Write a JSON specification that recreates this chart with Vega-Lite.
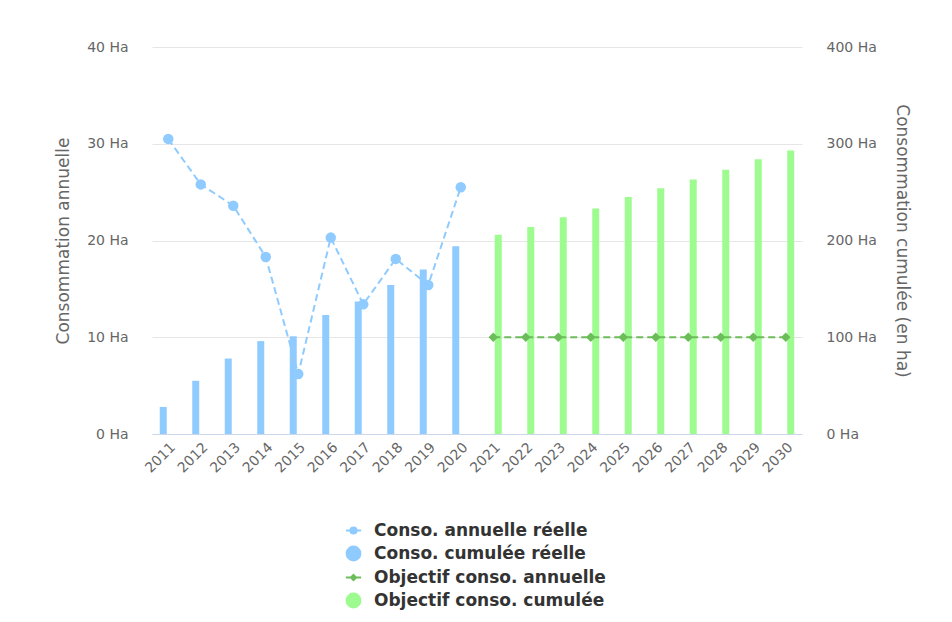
{
  "$schema": "https://vega.github.io/schema/vega-lite/v6.json",
  "width": 650,
  "height": 387,
  "autosize": {"type": "none"},
  "padding": {"left": 152, "top": 47, "right": 150, "bottom": 188},
  "background": "white",
  "config": {
    "font": "DejaVu Sans",
    "view": {"stroke": null},
    "axis": {"labelColor": "#666666", "titleColor": "#666666", "labelFontSize": 14, "titleFontSize": 17, "titleFontWeight": "normal", "ticks": false, "domain": false}
  },
  "datasets": {
    "d": [
      {"year": "2011", "series": "Conso. annuelle réelle", "value": 30.5},
      {"year": "2012", "series": "Conso. annuelle réelle", "value": 25.8},
      {"year": "2013", "series": "Conso. annuelle réelle", "value": 23.6},
      {"year": "2014", "series": "Conso. annuelle réelle", "value": 18.3},
      {"year": "2015", "series": "Conso. annuelle réelle", "value": 6.2},
      {"year": "2016", "series": "Conso. annuelle réelle", "value": 20.3},
      {"year": "2017", "series": "Conso. annuelle réelle", "value": 13.4},
      {"year": "2018", "series": "Conso. annuelle réelle", "value": 18.1},
      {"year": "2019", "series": "Conso. annuelle réelle", "value": 15.4},
      {"year": "2020", "series": "Conso. annuelle réelle", "value": 25.5},
      {"year": "2011", "series": "Conso. cumulée réelle", "value": 28},
      {"year": "2012", "series": "Conso. cumulée réelle", "value": 55},
      {"year": "2013", "series": "Conso. cumulée réelle", "value": 78},
      {"year": "2014", "series": "Conso. cumulée réelle", "value": 96},
      {"year": "2015", "series": "Conso. cumulée réelle", "value": 101},
      {"year": "2016", "series": "Conso. cumulée réelle", "value": 123},
      {"year": "2017", "series": "Conso. cumulée réelle", "value": 137},
      {"year": "2018", "series": "Conso. cumulée réelle", "value": 154},
      {"year": "2019", "series": "Conso. cumulée réelle", "value": 170},
      {"year": "2020", "series": "Conso. cumulée réelle", "value": 194},
      {"year": "2021", "series": "Objectif conso. annuelle", "value": 10},
      {"year": "2022", "series": "Objectif conso. annuelle", "value": 10},
      {"year": "2023", "series": "Objectif conso. annuelle", "value": 10},
      {"year": "2024", "series": "Objectif conso. annuelle", "value": 10},
      {"year": "2025", "series": "Objectif conso. annuelle", "value": 10},
      {"year": "2026", "series": "Objectif conso. annuelle", "value": 10},
      {"year": "2027", "series": "Objectif conso. annuelle", "value": 10},
      {"year": "2028", "series": "Objectif conso. annuelle", "value": 10},
      {"year": "2029", "series": "Objectif conso. annuelle", "value": 10},
      {"year": "2030", "series": "Objectif conso. annuelle", "value": 10},
      {"year": "2021", "series": "Objectif conso. cumulée", "value": 206},
      {"year": "2022", "series": "Objectif conso. cumulée", "value": 214},
      {"year": "2023", "series": "Objectif conso. cumulée", "value": 224},
      {"year": "2024", "series": "Objectif conso. cumulée", "value": 233},
      {"year": "2025", "series": "Objectif conso. cumulée", "value": 245},
      {"year": "2026", "series": "Objectif conso. cumulée", "value": 254},
      {"year": "2027", "series": "Objectif conso. cumulée", "value": 263},
      {"year": "2028", "series": "Objectif conso. cumulée", "value": 273},
      {"year": "2029", "series": "Objectif conso. cumulée", "value": 284},
      {"year": "2030", "series": "Objectif conso. cumulée", "value": 293}
    ]
  },
  "data": {"name": "d"},
  "encoding": {
    "x": {
      "field": "year", "type": "ordinal",
      "scale": {"paddingInner": 0, "paddingOuter": 0},
      "axis": {"title": null, "labelAngle": -45, "domain": true, "domainColor": "#ccd6eb", "labelPadding": 6, "labelFontSize": 14}
    }
  },
  "layer": [
    {
      "transform": [{"filter": "indexof(datum.series, 'cumulée') >= 0"}],
      "mark": {"type": "bar"},
      "encoding": {
        "xOffset": {"field": "series", "type": "nominal", "scale": {"domain": ["Conso. cumulée réelle", "Objectif conso. cumulée"], "paddingInner": 0.3, "paddingOuter": 0.775}},
        "y": {
          "field": "value", "type": "quantitative",
          "scale": {"domain": [0, 400]},
          "axis": {"orient": "right", "title": "Consommation cumulée (en ha)", "values": [0, 100, 200, 300, 400], "labelExpr": "datum.value + ' Ha'", "grid": false, "labelPadding": 24, "titlePadding": 16}
        },
        "color": {
          "field": "series", "type": "nominal",
          "scale": {
            "domain": ["Conso. annuelle réelle", "Conso. cumulée réelle", "Objectif conso. annuelle", "Objectif conso. cumulée"],
            "range": ["#8fcbff", "#8fcbff", "#6cbd5a", "#9dfb8f"]
          },
          "legend": {
            "title": null,
            "orient": "none",
            "legendX": 193,
            "legendY": 475,
            "labelFontSize": 17,
            "labelFontWeight": "bold",
            "labelColor": "#333333",
            "labelLimit": 500,
            "symbolSize": 190,
            "rowPadding": 3,
            "labelOffset": 12,
            "encode": {
              "symbols": {
                "update": {
                  "shape": {"signal": "datum.value == 'Conso. annuelle réelle' ? 'M-1.1,0H1.1M0.45,0A0.45,0.45,0,1,1,-0.45,0A0.45,0.45,0,1,1,0.45,0Z' : datum.value == 'Objectif conso. annuelle' ? 'M-1.1,0H1.1M0,-0.38L0.38,0L0,0.38L-0.38,0Z' : 'circle'"},
                  "fill": {"scale": "color", "field": "value"},
                  "stroke": {"scale": "color", "field": "value"},
                  "strokeWidth": {"value": 2}
                }
              }
            }
          }
        }
      }
    },
    {
      "transform": [{"filter": "indexof(datum.series, 'annuelle') >= 0"}],
      "mark": {"type": "line", "strokeDash": [7, 4], "strokeWidth": 2},
      "encoding": {
        "y": {
          "field": "value", "type": "quantitative",
          "scale": {"domain": [0, 40]},
          "axis": {"orient": "left", "title": "Consommation annuelle", "values": [0, 10, 20, 30, 40], "labelExpr": "datum.value + ' Ha'", "grid": true, "gridColor": "#e6e6e6", "labelPadding": 24, "titlePadding": 14}
        },
        "color": {"field": "series", "type": "nominal"},
        "detail": {"field": "series"}
      }
    },
    {
      "transform": [{"filter": "datum.series == 'Conso. annuelle réelle'"}],
      "mark": {"type": "point", "shape": "circle", "filled": true, "opacity": 1, "size": 110},
      "encoding": {
        "y": {"field": "value", "type": "quantitative", "scale": {"domain": [0, 40]}, "axis": null},
        "color": {"field": "series", "type": "nominal"}
      }
    },
    {
      "transform": [{"filter": "datum.series == 'Objectif conso. annuelle'"}],
      "mark": {"type": "point", "shape": "diamond", "filled": true, "opacity": 1, "size": 90},
      "encoding": {
        "y": {"field": "value", "type": "quantitative", "scale": {"domain": [0, 40]}, "axis": null},
        "color": {"field": "series", "type": "nominal"}
      }
    }
  ],
  "resolve": {"scale": {"y": "independent"}}
}
